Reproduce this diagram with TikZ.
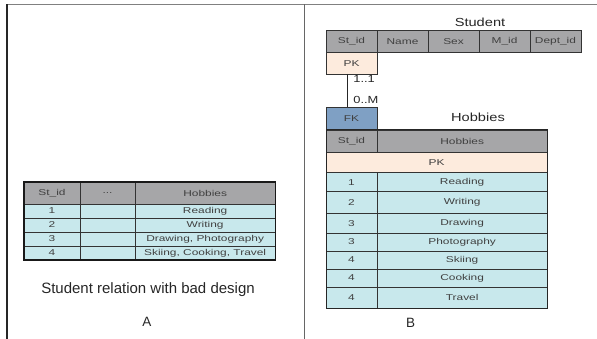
\documentclass[tikz,border=0pt]{standalone}
\usepackage{fontspec}
\setmainfont{Liberation Sans}
\newfontfamily\tabfont{Liberation Sans}[FakeStretch=1.4]
\newfontfamily\ttlfont{Liberation Sans}[FakeStretch=1.25]
\usetikzlibrary{positioning}

\definecolor{hdrgray}{RGB}{166,166,168}
\definecolor{rowcyan}{RGB}{200,232,236}
\definecolor{pkpeach}{RGB}{253,235,221}
\definecolor{fkblue}{RGB}{127,160,196}

\begin{document}
\begin{tikzpicture}[
    x=1pt, y=-1pt,
    cell/.style={rectangle, draw=black!80, fill=rowcyan, inner sep=0pt, outer sep=0pt, minimum height=14pt, text=black!75, font=\tabfont\fontsize{8.5}{10}\selectfont},
    hdr/.style={cell, fill=hdrgray, minimum height=22pt},
    key/.style={hdr, fill=pkpeach, minimum height=21.6pt},
    title/.style={text=black!85, font=\ttlfont\fontsize{11.7}{14}\selectfont},
    lbl/.style={inner sep=0pt, anchor=west, xshift=5.7pt, text=black!85, font=\ttlfont\fontsize{10.3}{12}\selectfont},
    frame/.style={draw=black!60, line width=1.4pt}
]
\useasboundingbox (0,0) rectangle (597,339);

% page frame
\draw[frame, draw=black!50] (7,4.5) -- (597,4.5);
\draw[frame, draw=black!85] (7,4.5) -- (7,339);
\draw[frame] (304.7,4.5) -- (304.7,339);

% A: one relation
\node[hdr, minimum width=56pt, anchor=north west] (lst) at (24,182) {St\_id};
\node[hdr, minimum width=55pt, right=0pt of lst] (ldots) {...};
\node[hdr, minimum width=140.3pt, right=0pt of ldots] (lhob) {Hobbies};
\foreach \id/\hob [count=\r] in {1/Reading, 2/Writing, 3/{Drawing, Photography}, 4/{Skiing, Cooking, Travel}} {
  \node[cell, minimum width=56pt, anchor=north west] (lid\r) at (24,{204+14*(\r-1)}) {\id};
  \node[cell, minimum width=55pt, right=0pt of lid\r] (lgap\r) {};
  \node[cell, minimum width=140.3pt, right=0pt of lgap\r] (lhob\r) {\hob};
}
\draw[line width=1.2pt, black!90] (lst.north west) rectangle (lhob4.south east);

\node[font=\fontsize{15}{18}\selectfont, text=black!85] (capA) at (148,290) {Student relation with bad design};
\node[font=\fontsize{13.5}{16}\selectfont, text=black!85] (labA) at (147,322) {A};

% B: two relations
\node[title] (tstud) at (480,22.7) {Student};
\node[hdr, minimum width=51pt, minimum height=21.6pt, anchor=north west] (sid) at (326,30.7) {St\_id};
\node[hdr, minimum width=51pt, minimum height=21.6pt, right=0pt of sid] (sname) {Name};
\node[hdr, minimum width=51pt, minimum height=21.6pt, right=0pt of sname] (ssex) {Sex};
\node[hdr, minimum width=51pt, minimum height=21.6pt, right=0pt of ssex] (smid) {M\_id};
\node[hdr, minimum width=51pt, minimum height=21.6pt, right=0pt of smid] (sdept) {Dept\_id};
\node[key, minimum width=51pt, below=0pt of sid] (spk) {PK};

\node[title] (thob) at (478,117.3) {Hobbies};
\node[key, fill=fkblue, minimum width=51pt, minimum height=22.5pt, anchor=north west] (hfk) at (326,107.5) {FK};
\node[hdr, minimum width=51pt, below=0pt of hfk] (hid) {St\_id};
\node[hdr, minimum width=170.3pt, right=0pt of hid] (hhob) {Hobbies};
\node[key, minimum width=221.3pt, minimum height=20.7pt, anchor=north west] (hpk) at (hid.south west) {PK};
\foreach \id/\hob/\rowtop/\rowh [count=\r] in {1/Reading/172.7/19pt, 2/Writing/191.7/21.6pt, 3/Drawing/213.3/20pt, 3/Photography/233.3/17.4pt, 4/Skiing/250.7/18.6pt, 4/Cooking/269.3/17.4pt, 4/Travel/286.7/21.6pt} {
  \node[cell, minimum width=51pt, minimum height=\rowh, anchor=north west] (hid\r) at (326,\rowtop) {\id};
  \node[cell, minimum width=170.3pt, minimum height=\rowh, right=0pt of hid\r] (hhob\r) {\hob};
}
\draw[line width=1pt, black!85] (hid.north west) rectangle (hhob7.south east);

\draw[line width=0.8pt, black!85] ([xshift=-4.2pt]spk.south) -- ([xshift=-4.2pt]hfk.north)
    node[lbl, pos=0.16] {1..1}
    node[lbl, pos=0.78] {0..M};

\node[font=\fontsize{13.5}{16}\selectfont, text=black!85] (labB) at (410.7,322.7) {B};
\end{tikzpicture}
\end{document}
